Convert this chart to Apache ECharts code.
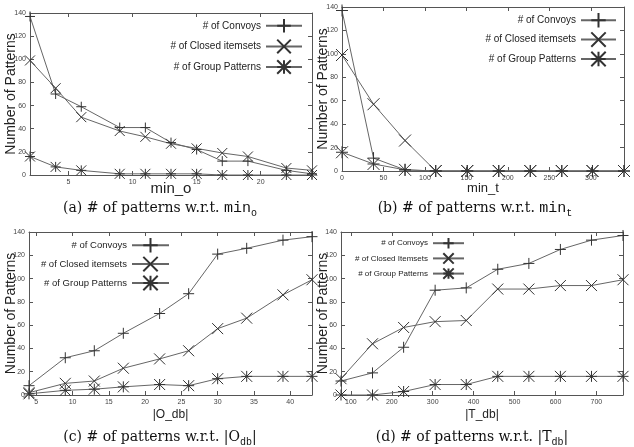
<!DOCTYPE html>
<html>
<head>
<meta charset="utf-8">
<script src="https://cdn.jsdelivr.net/npm/echarts@6/dist/echarts.min.js"></script>
<style>
  html, body { margin: 0; padding: 0; background: #fff; }
  #chart { width: 634px; height: 447px; }
</style>
</head>
<body>
<div id="chart"></div>
<script>
// (a) w.r.t. min_o
var minO = [2, 4, 6, 9, 11, 13, 15, 17, 19, 22, 24];
var convoysA = [137, 70, 59, 41, 41, 28, 22, 12, 12, 4, 1];
var closedA = [99, 75, 50, 38, 33, 27, 23, 19, 16, 6, 4];
var groupA = [16, 7, 4, 1, 1, 1, 1, 0, 0, 0, 0];
var ticksA = [5, 10, 15, 20];

// (b) w.r.t. min_t
var minT = [0, 38, 76, 113, 151, 189, 227, 265, 302, 340];
var convoysB = [137, 11, 1, 0, 0, 0, 0, 0, 0, 0];
var closedB = [99, 57, 26, 0, 0, 0, 0, 0, 0, 0];
var groupB = [16, 6, 1, 0, 0, 0, 0, 0, 0, 0];
var ticksB = [0, 50, 100, 150, 200, 250, 300];

// (c) w.r.t. |O_db|
var oDb = [4, 9, 13, 17, 22, 26, 30, 34, 39, 43];
var convoysC = [8, 32, 38, 53, 70, 87, 121, 126, 133, 136];
var closedC = [2, 10, 12, 23, 31, 38, 57, 66, 86, 99];
var groupC = [1, 4, 5, 7, 9, 8, 14, 16, 16, 16];
var ticksC = [5, 10, 15, 20, 25, 30, 35, 40];

// (d) w.r.t. |T_db|
var tDb = [76, 153, 229, 306, 382, 459, 535, 612, 688, 765];
var convoysD = [12, 19, 41, 90, 92, 108, 113, 125, 133, 137];
var closedD = [14, 44, 58, 63, 64, 91, 91, 94, 94, 99];
var groupD = [0, 0, 3, 9, 9, 16, 16, 16, 16, 16];
var ticksD = [100, 200, 300, 400, 500, 600, 700];

var yMax = 140, yStep = 20;

var PLUS = 'path://M0,5L10,5M5,0L5,10';
var CROSS = 'path://M0,0L10,10M10,0L0,10';
var STAR = 'path://M0,5L10,5M5,0L5,10M0,0L10,10M10,0L0,10';

var SANS = '"Liberation Sans", Arial, sans-serif';
var lineColor = '#666';
var markColor = '#333';
var axisColor = '#555';

function pairs(xs, ys) {
  return xs.map(function (x, i) { return [x, ys[i]]; });
}

var panels = [
  { grid: {left: 30, top: 13, width: 282, height: 162}, xs: minO, min: 2, max: 24, ticks: ticksA,
    ys: [convoysA, closedA, groupA], xname: 'min_o', xnameSize: 15, xnameGap: 6, ynameGap: 12,
    closedName: '# of Closed itemsets', mark: 10,
    legend: {right: 331, top: 18, itemWidth: 36, itemHeight: 17, itemGap: 5, fontSize: 10} },
  { grid: {left: 342, top: 7, width: 282, height: 164}, xs: minT, min: 0, max: 340, ticks: ticksB,
    ys: [convoysB, closedB, groupB], xname: 'min_t', xnameSize: 13, xnameGap: 11, ynameGap: 12,
    closedName: '# of Closed itemsets', mark: 12,
    legend: {right: 17, top: 12, itemWidth: 35, itemHeight: 18, itemGap: 3, fontSize: 10} },
  { grid: {left: 29, top: 232, width: 283, height: 163}, xs: oDb, min: 4, max: 43, ticks: ticksC,
    ys: [convoysC, closedC, groupC], xname: '|O_db|', xnameSize: 12, xnameGap: 14, ynameGap: 11,
    closedName: '# of Closed itemsets', mark: 11,
    legend: {right: 464, top: 237, itemWidth: 37, itemHeight: 18, itemGap: 2.5, fontSize: 9.5} },
  { grid: {left: 341, top: 232, width: 282, height: 163}, xs: tDb, min: 76, max: 765, ticks: ticksD,
    ys: [convoysD, closedD, groupD], xname: '|T_db|', xnameSize: 12, xnameGap: 14, ynameGap: 11,
    closedName: '# of Closed Itemsets', mark: 11,
    legend: {right: 169, top: 237, itemWidth: 31, itemHeight: 13, itemGap: 2.8, fontSize: 8} }
];

var grids = [], xAxes = [], yAxes = [], series = [], legends = [];

panels.forEach(function (p, i) {
  grids.push(p.grid);
  var tick = {show: true, inside: true, length: 4, customValues: p.ticks, lineStyle: {color: axisColor}};
  var line = {show: true, onZero: false, lineStyle: {color: axisColor, width: 1}};
  xAxes.push({
    gridIndex: i, type: 'value', min: p.min, max: p.max, position: 'bottom',
    axisLine: line, axisTick: tick, splitLine: {show: false},
    axisLabel: {customValues: p.ticks, fontSize: 7, color: '#444', margin: 4, fontFamily: SANS},
    name: p.xname, nameLocation: 'middle', nameGap: p.xnameGap, nameMoveOverlap: false,
    nameTextStyle: {fontSize: p.xnameSize, color: '#222', fontFamily: SANS}
  });
  xAxes.push({
    gridIndex: i, type: 'value', min: p.min, max: p.max, position: 'top',
    axisLine: line, axisTick: tick, splitLine: {show: false}, axisLabel: {show: false}
  });
  var ytick = {show: true, inside: true, length: 4, lineStyle: {color: axisColor}};
  yAxes.push({
    gridIndex: i, type: 'value', min: 0, max: yMax, interval: yStep, position: 'left',
    axisLine: line, axisTick: ytick, splitLine: {show: false},
    axisLabel: {fontSize: 7, color: '#444', margin: 4, fontFamily: SANS},
    name: 'Number of Patterns', nameLocation: 'middle', nameGap: p.ynameGap, nameMoveOverlap: false,
    nameTextStyle: {fontSize: 14, color: '#222', fontFamily: SANS}
  });
  yAxes.push({
    gridIndex: i, type: 'value', min: 0, max: yMax, interval: yStep, position: 'right',
    axisLine: line, axisTick: ytick, splitLine: {show: false}, axisLabel: {show: false}
  });

  var names = ['# of Convoys', p.closedName, '# of Group Patterns'];
  var symbols = [PLUS, CROSS, STAR];
  names.forEach(function (n, k) {
    series.push({
      type: 'line', name: n, xAxisIndex: 2 * i, yAxisIndex: 2 * i,
      data: pairs(p.xs, p.ys[k]),
      symbol: symbols[k], symbolSize: p.mark,
      lineStyle: {color: lineColor, width: 1},
      itemStyle: {color: markColor, borderColor: markColor, borderWidth: 1},
      emphasis: {disabled: true}
    });
  });
  legends.push({
    orient: 'vertical', align: 'right', padding: 0,
    right: p.legend.right, top: p.legend.top,
    itemWidth: p.legend.itemWidth, itemHeight: p.legend.itemHeight, itemGap: p.legend.itemGap,
    data: names, selectedMode: false,
    textStyle: {fontSize: p.legend.fontSize, color: '#222', fontFamily: SANS}
  });
});

function caption(x, y, text) {
  return {
    type: 'text', x: x, y: y,
    style: {
      text: text, align: 'center', verticalAlign: 'middle',
      rich: {
        t: {fontFamily: '"DejaVu Serif", serif', fontSize: 14, lineHeight: 20, verticalAlign: 'middle', fill: '#111'},
        m: {fontFamily: '"Liberation Mono", monospace', fontSize: 15, lineHeight: 20, verticalAlign: 'middle', fill: '#111'},
        s: {fontFamily: '"Liberation Mono", monospace', fontSize: 10, lineHeight: 8, verticalAlign: 'bottom', fill: '#111'}
      }
    }
  };
}

var chart = echarts.init(document.getElementById('chart'), null, {renderer: 'canvas'});
chart.setOption({
  animation: false,
  backgroundColor: '#fff',
  grid: grids,
  xAxis: xAxes,
  yAxis: yAxes,
  legend: legends,
  series: series,
  graphic: [
    caption(160, 208, '{t|(a) # of patterns w.r.t. }{m|min}{s|o}'),
    caption(475, 208, '{t|(b) # of patterns w.r.t. }{m|min}{s|t}'),
    caption(160, 437, '{t|(c) # of patterns w.r.t. |O}{s|db}{t||}'),
    caption(472, 437, '{t|(d) # of patterns w.r.t. |T}{s|db}{t||}')
  ]
});
</script>
</body>
</html>
